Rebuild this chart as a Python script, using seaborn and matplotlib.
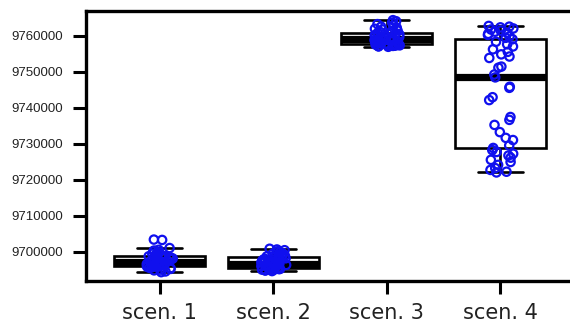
import numpy as np
import pandas as pd
import matplotlib
matplotlib.use("Agg")
import matplotlib.pyplot as plt
import seaborn as sns

categories = ["scen. 1", "scen. 2", "scen. 3", "scen. 4"]

scen1 = [9694400, 9694600, 9694900, 9695100, 9695300, 9695500, 9695600, 9695750,
         9695850, 9695950, 9696050, 9696150, 9696200, 9696300, 9696400, 9696550,
         9696650, 9696750, 9696850, 9696950, 9697050, 9697150, 9697250, 9697350,
         9697400, 9697500, 9697650, 9697800, 9697950, 9698050, 9698200, 9698350,
         9698450, 9698600, 9698700, 9698800, 9698900, 9699100, 9699300, 9699500,
         9699700, 9699900, 9700200, 9700400, 9700600, 9701100, 9703350, 9703450,
         9696100]
scen2 = [9694700, 9694850, 9694950, 9695050, 9695100, 9695150, 9695200, 9695250,
         9695300, 9695350, 9695400, 9695450, 9695500, 9695600, 9695700, 9695800,
         9695950, 9696100, 9696250, 9696400, 9696500, 9696600, 9696700, 9696750,
         9696800, 9696900, 9697050, 9697200, 9697350, 9697500, 9697650, 9697800,
         9697950, 9698100, 9698250, 9698400, 9698500, 9698650, 9698800, 9698950,
         9699100, 9699300, 9699500, 9699700, 9699900, 9700200, 9700500, 9700700,
         9700900]
scen3 = [9757000, 9757100, 9757200, 9757250, 9757300, 9757400, 9757450, 9757500,
         9757600, 9757650, 9757700, 9757750, 9757800, 9757900, 9758000, 9758150,
         9758300, 9758400, 9758550, 9758650, 9758800, 9758900, 9759000, 9759100,
         9759200, 9759300, 9759450, 9759600, 9759700, 9759850, 9760000, 9760150,
         9760300, 9760450, 9760600, 9760750, 9760900, 9761100, 9761300, 9761500,
         9761800, 9762000, 9762300, 9762600, 9762900, 9763300, 9763700, 9764100,
         9764400]
scen4 = [9722100, 9722300, 9722800, 9723300, 9724200, 9725000, 9725600, 9726200,
         9726800, 9727300, 9727800, 9728300, 9728900, 9729600, 9731100, 9731700,
         9733300, 9735300, 9736700, 9737500, 9742200, 9743000, 9745600, 9745900,
         9748500, 9749300, 9751200, 9751500, 9753900, 9754300, 9754900, 9755600,
         9756300, 9757100, 9757700, 9758400, 9759100, 9759500, 9759900, 9760300,
         9760600, 9760900, 9761200, 9761500, 9761800, 9762100, 9762400, 9762600,
         9762800]

ytick_values = [9700000, 9710000, 9720000, 9730000, 9740000, 9750000, 9760000]

df = pd.DataFrame({
    "scenario": np.repeat(categories, [len(scen1), len(scen2), len(scen3), len(scen4)]),
    "value": scen1 + scen2 + scen3 + scen4,
})

sns.set_style("white")
plt.rcParams["font.family"] = ["DejaVu Sans"]

fig = plt.figure(figsize=(5.7, 3.28), dpi=100)
ax = fig.add_axes([86 / 570, 47 / 328, 1 - 86 / 570, 270 / 328])

sns.boxplot(data=df, x="scenario", y="value", order=categories, ax=ax,
            color="white", linecolor="black", linewidth=1.9, width=0.8,
            showfliers=False, saturation=1,
            medianprops={"linewidth": 5.2, "color": "black"})

np.random.seed(3)
sns.stripplot(data=df, x="scenario", y="value", order=categories, ax=ax,
              color="blue", jitter=0.12, size=6, linewidth=1.6, zorder=3)
for coll in ax.collections:
    coll.set_facecolor("none")
    coll.set_edgecolor("#1010ee")
    coll.set_linewidth(1.6)

ax.set_xlim(-0.65, 3.614)
ax.set_ylim(9691944, 9766944)
ax.set_yticks(ytick_values)
ax.set_yticklabels([str(v) for v in ytick_values], fontsize=9.5,
                   family=["Liberation Sans", "DejaVu Sans"], color="#222222")
ax.set_xticks(range(len(categories)))
ax.set_xticklabels(categories, fontsize=15, color="#222222")
ax.set_xlabel("")
ax.set_ylabel("")

for side in ["top", "left", "bottom"]:
    ax.spines[side].set_visible(True)
    ax.spines[side].set_linewidth(2.4)
    ax.spines[side].set_color("black")
ax.spines["right"].set_visible(False)

ax.tick_params(axis="both", direction="out", length=9.5, width=2.2, color="black",
               left=True, bottom=True)
ax.tick_params(axis="x", pad=6)
ax.tick_params(axis="y", pad=7)

fig.savefig("out.png", dpi=100)
